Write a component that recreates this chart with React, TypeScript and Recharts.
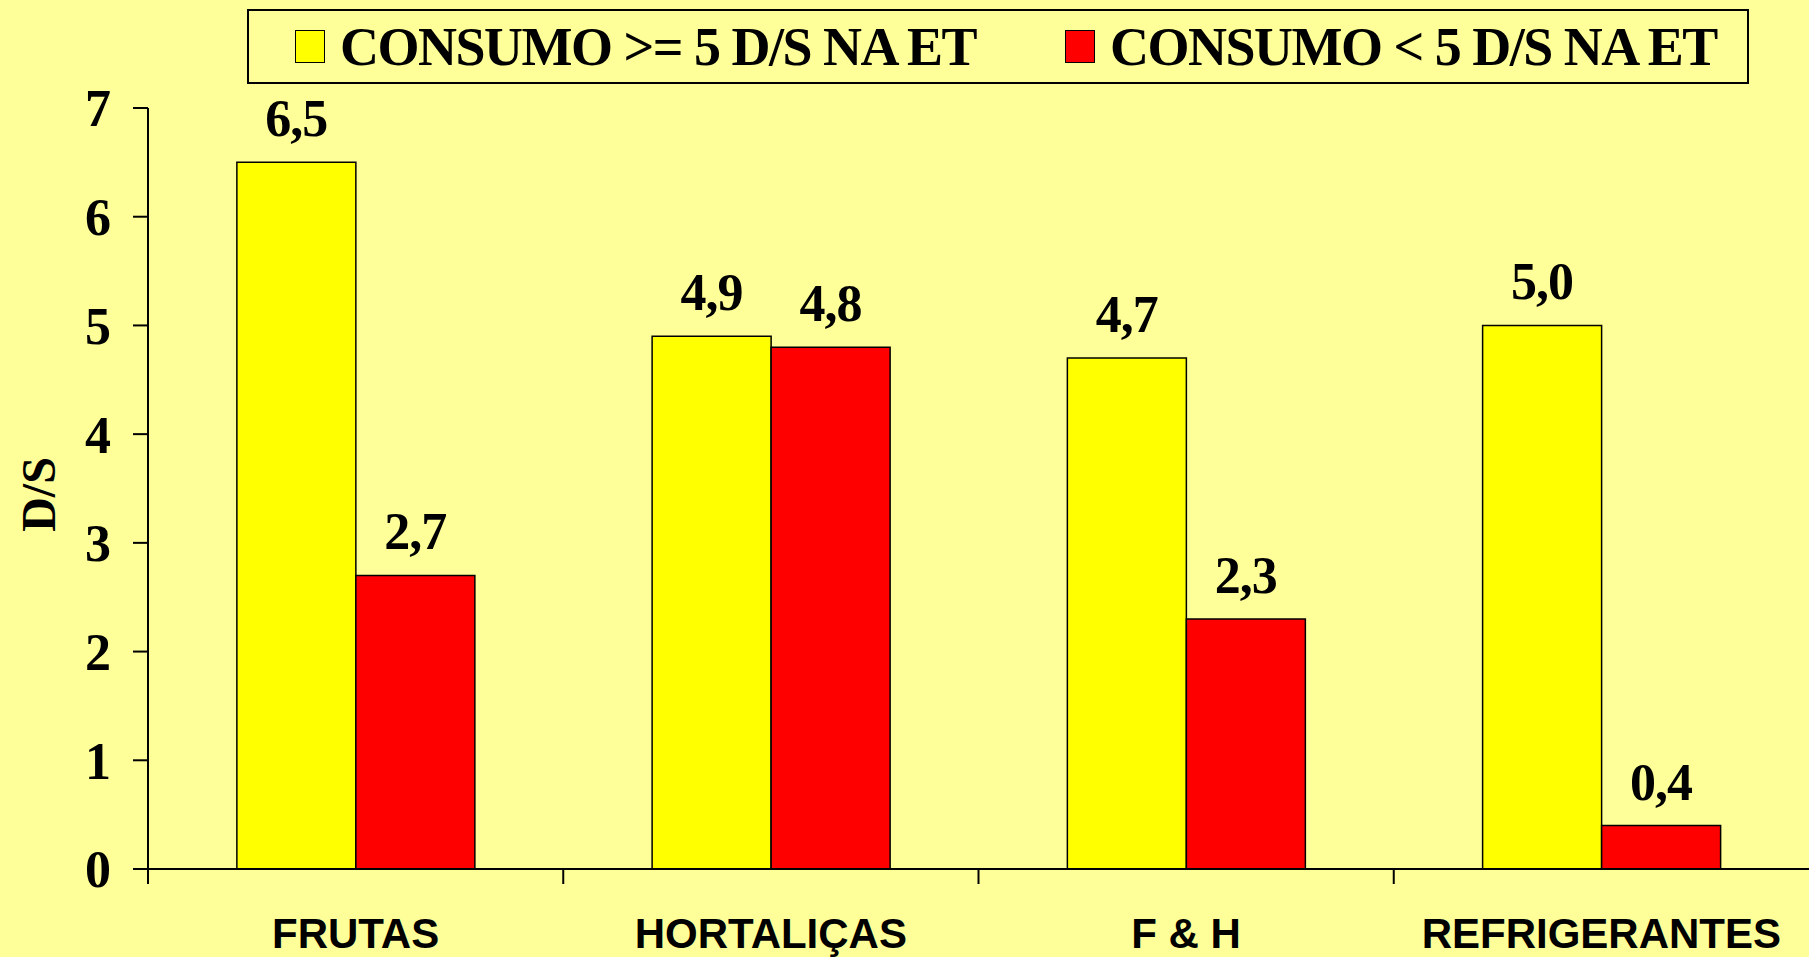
import { BarChart, Bar, XAxis, YAxis, LabelList } from "recharts";

const categories = ["FRUTAS", "HORTALIÇAS", "F & H", "REFRIGERANTES"];
const consumoAlto = [6.5, 4.9, 4.7, 5.0];
const consumoBaixo = [2.7, 4.8, 2.3, 0.4];
const yTicks = [0, 1, 2, 3, 4, 5, 6, 7];

const series = [
  { key: "alto", name: "CONSUMO >= 5 D/S NA ET", color: "#FFFF00" },
  { key: "baixo", name: "CONSUMO < 5 D/S NA ET", color: "#FF0000" },
];

const data = categories.map((c, i) => ({ cat: c, alto: consumoAlto[i], baixo: consumoBaixo[i] }));

const serif = "'Liberation Serif', 'Times New Roman', serif";
const sans = "'Liberation Sans', Arial, sans-serif";

const fmt = (v: number) => v.toFixed(1).replace(".", ",");

function ValueLabel(props: any) {
  const { x, y, width, value } = props;
  return (
    <text x={x + width / 2} y={y - 26} textAnchor="middle" fontFamily={serif} fontWeight="bold" fontSize={52} letterSpacing={-1} fill="#000">
      {fmt(Number(value))}
    </text>
  );
}

function CatTick(props: any) {
  const { x, y, payload } = props;
  const half = payload.offset || 0;
  return (
    <g>
      <line x1={x - half} x2={x - half} y1={y} y2={y + 15} stroke="#000" strokeWidth={2} />
      <text x={x} y={y + 79} textAnchor="middle" fontFamily={sans} fontWeight="bold" fontSize={42} fill="#000">
        {payload.value}
      </text>
    </g>
  );
}

function AxisTitle(props: any) {
  const { viewBox } = props;
  const cx = 38;
  const cy = viewBox.y + viewBox.height / 2 + 6;
  return (
    <text x={cx} y={cy} transform={`rotate(-90 ${cx} ${cy})`} textAnchor="middle" dominantBaseline="central" fontFamily={serif} fontWeight="bold" fontSize={48} fill="#000">
      D/S
    </text>
  );
}

export default function App() {
  return (
    <div style={{ position: "absolute", left: 0, top: 0, width: 1809, height: 957, background: "#FFFF99", overflow: "hidden" }}>
      <BarChart width={1809} height={957} data={data} margin={{ top: 108, right: 0, bottom: 0, left: 0 }} barCategoryGap="21.4%" barGap={0}>
        <XAxis dataKey="cat" height={88} tickLine={false} tickSize={0} tickMargin={0} axisLine={{ stroke: "#000", strokeWidth: 2 }} tick={<CatTick />} interval={0} />
        <YAxis
          width={148}
          domain={[0, 7]}
          ticks={yTicks}
          interval={0}
          tickSize={15}
          tickMargin={22}
          axisLine={{ stroke: "#000", strokeWidth: 2 }}
          tickLine={{ stroke: "#000", strokeWidth: 2 }}
          tick={{ fill: "#000", fontFamily: serif, fontWeight: "bold", fontSize: 52 }}
          label={<AxisTitle />}
        />
        {series.map((s) => (
          <Bar key={s.key} dataKey={s.key} name={s.name} fill={s.color} stroke="#000" strokeWidth={1.5} isAnimationActive={false}>
            <LabelList dataKey={s.key} content={<ValueLabel />} />
          </Bar>
        ))}
      </BarChart>
      <div
        style={{
          position: "absolute",
          left: 247,
          top: 9,
          width: 1502,
          height: 75,
          boxSizing: "border-box",
          border: "2px solid #000",
          display: "flex",
          alignItems: "center",
          fontFamily: serif,
          fontWeight: "bold",
          fontSize: 54,
          letterSpacing: -1.5,
          color: "#000",
        }}
      >
        {series.map((s, i) => (
          <div key={s.key} style={{ position: "absolute", left: i === 0 ? 46 : 816, display: "flex", alignItems: "center", whiteSpace: "nowrap" }}>
            <span style={{ display: "inline-block", width: 30, height: 33, background: s.color, border: "1.5px solid #000", boxSizing: "border-box", marginRight: 15 }} />
            <span>{s.name}</span>
          </div>
        ))}
      </div>
    </div>
  );
}
